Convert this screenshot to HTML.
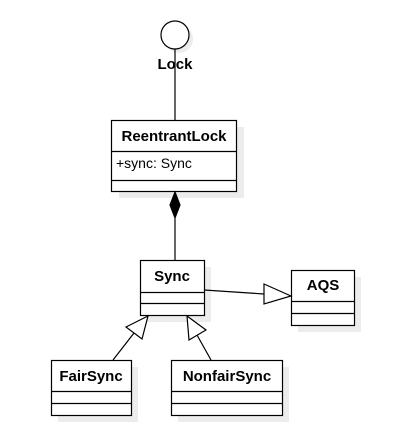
<!DOCTYPE html>
<html><head><meta charset="utf-8"><style>
html,body{margin:0;padding:0;background:#fff;}
svg{display:block;}
text{font-family:"Liberation Sans",Arial,sans-serif;font-size:14px;fill:#000;}
.b{font-weight:bold;font-size:15px;}
</style></head><body>
<svg width="400" height="431" viewBox="0 0 400 431" xmlns="http://www.w3.org/2000/svg">
<g fill="#ececec">
<circle cx="179" cy="39" r="14"/>
<rect x="119" y="127" width="125" height="71"/>
<rect x="147" y="267" width="64" height="55"/>
<rect x="298" y="277" width="63" height="55"/>
<rect x="58" y="367" width="80" height="55"/>
<rect x="178" y="367" width="111" height="55"/>
</g>
<g stroke="#000" stroke-width="1.2" fill="#fff">
<line x1="175" y1="49" x2="175" y2="120"/>
<circle cx="175" cy="35" r="14"/>
<rect x="111.5" y="120.5" width="125" height="71"/>
<line x1="111.5" y1="151.5" x2="236.5" y2="151.5"/>
<line x1="111.5" y1="180.5" x2="236.5" y2="180.5"/>
<line x1="175" y1="218" x2="175" y2="260"/>
<polygon points="175,192 180,205 175,218 170,205" fill="#000"/>
<rect x="140.5" y="260.5" width="64" height="55"/>
<line x1="140.5" y1="292.5" x2="204.5" y2="292.5"/>
<line x1="140.5" y1="303.5" x2="204.5" y2="303.5"/>
<rect x="291.5" y="270.5" width="63" height="55"/>
<line x1="291.5" y1="301.5" x2="354.5" y2="301.5"/>
<line x1="291.5" y1="313.5" x2="354.5" y2="313.5"/>
<rect x="51.5" y="360.5" width="80" height="55"/>
<line x1="51.5" y1="391.5" x2="131.5" y2="391.5"/>
<line x1="51.5" y1="403.5" x2="131.5" y2="403.5"/>
<rect x="171.5" y="360.5" width="111" height="55"/>
<line x1="171.5" y1="391.5" x2="282.5" y2="391.5"/>
<line x1="171.5" y1="403.5" x2="282.5" y2="403.5"/>
<line x1="204" y1="290" x2="264" y2="294"/>
<polygon points="291,296 264,284 264,304"/>
<line x1="113" y1="360" x2="134" y2="333"/>
<polygon points="148,316 142,339 126,327"/>
<line x1="211" y1="360" x2="197" y2="335"/>
<polygon points="187,316 206,330 189,340"/>
</g>
<text x="175" y="69" text-anchor="middle" class="b">Lock</text>
<text x="174" y="141" text-anchor="middle" class="b">ReentrantLock</text>
<text x="116" y="168">+sync:  Sync</text>
<text x="172" y="281" text-anchor="middle" class="b">Sync</text>
<text x="323" y="290" text-anchor="middle" class="b">AQS</text>
<text x="91" y="381" text-anchor="middle" class="b">FairSync</text>
<text x="227" y="381" text-anchor="middle" class="b">NonfairSync</text>
</svg>
</body></html>
